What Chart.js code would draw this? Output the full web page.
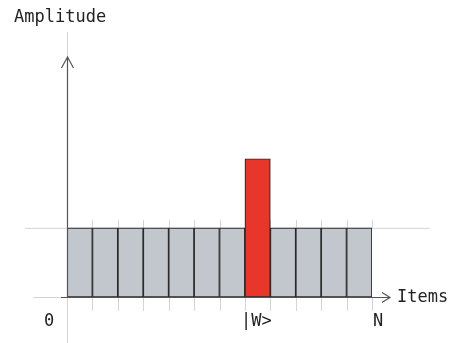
<!DOCTYPE html>
<html><head><meta charset="utf-8">
<script src="https://cdn.jsdelivr.net/npm/chart.js@4/dist/chart.umd.min.js"></script>
<style>html,body{margin:0;padding:0;background:#fff}#wrap{width:452px;height:343px}</style>
</head><body><div id="wrap"><canvas id="c" width="452" height="343"></canvas></div>
<script>
const categories = ['1','2','3','4','5','6','7','8','9','10','11','12'];
const amplitudes = [1,1,1,1,1,1,1,2,1,1,1,1];
const markedIndex = 7;
const tickLabels = ['0','|W>','N'];
const yTitle = 'Amplitude';
const xTitle = 'Items';

const FONT = '"DejaVu Sans Mono", monospace';
const colors = amplitudes.map((v,i)=> i===markedIndex ? '#e8372a' : '#c1c7cd');

const sketch = {
  id:'sketch',
  beforeDatasetsDraw(chart){
    const {ctx, chartArea:a, scales:{x,y}} = chart;
    const y0 = y.getPixelForValue(0), y1 = y.getPixelForValue(1);
    ctx.save();
    ctx.strokeStyle = '#d4d4d4'; ctx.lineWidth = 1;
    ctx.beginPath();
    ctx.moveTo(25, y1+0.5); ctx.lineTo(430, y1+0.5);
    ctx.moveTo(a.left+0.5, 32); ctx.lineTo(a.left+0.5, 57);
    ctx.moveTo(a.left+0.5, y0); ctx.lineTo(a.left+0.5, 343);
    ctx.moveTo(33, y0+0.5); ctx.lineTo(a.left-6, y0+0.5);
    const w = x.getPixelForValue(1)-x.getPixelForValue(0);
    for(let i=0;i<=categories.length;i++){
      const px = Math.round(x.getPixelForValue(0) - w/2 + i*w)+0.5;
      ctx.moveTo(px, y0); ctx.lineTo(px, y0+14);
      ctx.moveTo(px, y1-8); ctx.lineTo(px, y1);
    }
    ctx.stroke();
    ctx.restore();
  },
  afterDatasetsDraw(chart){
    const {ctx, chartArea:a, scales:{x,y}} = chart;
    const y0 = y.getPixelForValue(0);
    const w = x.getPixelForValue(1)-x.getPixelForValue(0);
    ctx.save();
    ctx.strokeStyle = '#555'; ctx.lineWidth = 1.2;
    ctx.beginPath();
    ctx.moveTo(a.left+0.5, y0); ctx.lineTo(a.left+0.5, 57);
    ctx.moveTo(a.left-5.5, 68); ctx.lineTo(a.left+0.5, 57); ctx.lineTo(a.left+6.5, 68);
    ctx.moveTo(a.left-6, y0+0.5); ctx.lineTo(390, y0+0.5);
    ctx.moveTo(382, y0-4.5); ctx.lineTo(390, y0+0.5); ctx.lineTo(382, y0+5.5);
    ctx.stroke();
    ctx.fillStyle = '#222';
    ctx.font = '17px ' + FONT;
    ctx.textBaseline = 'alphabetic'; ctx.textAlign = 'left';
    ctx.fillText(yTitle, 14, 22);
    ctx.textBaseline = 'middle';
    ctx.fillText(xTitle, 397, y0+1);
    ctx.textAlign = 'center';
    ctx.fillText(tickLabels[0], a.left-18, 322);
    ctx.textAlign = 'left';
    ctx.fillText(tickLabels[1], x.getPixelForValue(markedIndex)-w/2-4, 322);
    ctx.textAlign = 'center';
    ctx.fillText(tickLabels[2], x.getPixelForValue(categories.length-1)+w/2+6, 322);
    ctx.restore();
  }
};

new Chart(document.getElementById('c'), {
  type:'bar',
  data:{labels:categories, datasets:[{data:amplitudes, backgroundColor:colors,
    borderColor:'#2a2a2a', borderWidth:1.2, borderSkipped:false,
    barPercentage:1, categoryPercentage:1}]},
  options:{
    responsive:false, animation:false, devicePixelRatio:1,
    layout:{padding:{left:67,right:80,top:55,bottom:46}},
    plugins:{legend:{display:false}, tooltip:{enabled:false}},
    scales:{
      x:{display:false},
      y:{display:false, min:0, max:3.5}
    }
  },
  plugins:[sketch]
});
</script></body></html>
